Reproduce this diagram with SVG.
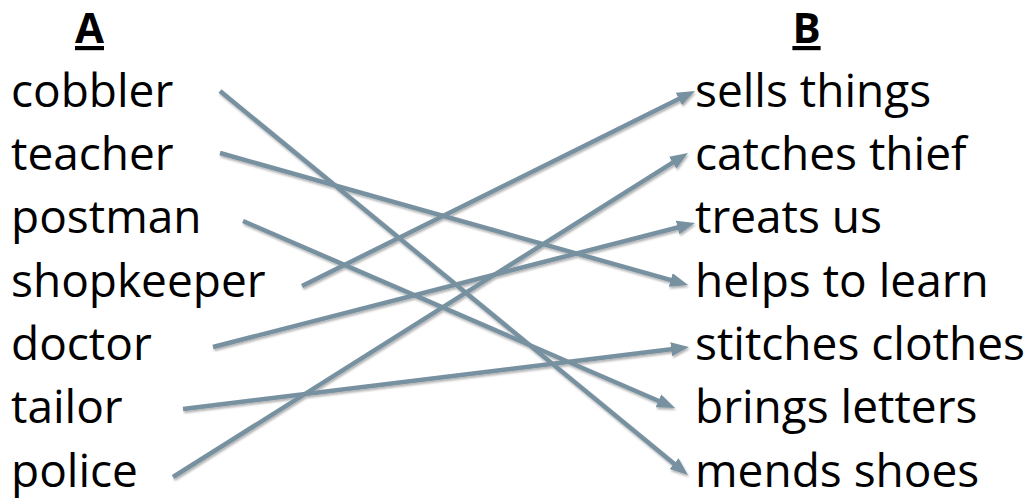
<svg xmlns="http://www.w3.org/2000/svg" width="1035" height="499" viewBox="0 0 1035 499">
<style>
  text { font-family: "Open Sans", "Liberation Sans", sans-serif; fill: #000; }
  .item { font-size: 46px; }
  .head { font-size: 42px; font-weight: bold; text-decoration: underline; }
  .conn line { stroke: #7891A0; stroke-width: 4.5; fill: none; marker-end: url(#ah); }
</style>
<defs>
  <marker id="ah" markerUnits="userSpaceOnUse" markerWidth="20" markerHeight="16" viewBox="0 -8 20 16" refX="6" refY="0" orient="auto">
    <path d="M0,-7 L18,0 L0,7 Z" fill="#7891A0"/>
  </marker>
  <filter id="sh" x="-10%" y="-10%" width="120%" height="130%">
    <feDropShadow dx="1" dy="2" stdDeviation="1.2" flood-color="#000" flood-opacity="0.3"/>
  </filter>
</defs>
<rect width="1035" height="499" fill="#fff"/>
<g id="headers">
  <text class="head" x="89.5" y="43" text-anchor="middle">A</text>
  <text class="head" x="806.5" y="43" text-anchor="middle">B</text>
</g>
<g id="left">
  <g id="n-cobbler"><text class="item" x="11" y="106.7">cobbler</text></g>
  <g id="n-teacher"><text class="item" x="11" y="170">teacher</text></g>
  <g id="n-postman"><text class="item" x="11" y="233.3">postman</text></g>
  <g id="n-shopkeeper"><text class="item" x="11" y="296.7">shopkeeper</text></g>
  <g id="n-doctor"><text class="item" x="11" y="360">doctor</text></g>
  <g id="n-tailor"><text class="item" x="11" y="423.3">tailor</text></g>
  <g id="n-police"><text class="item" x="11" y="486.7">police</text></g>
</g>
<g id="right">
  <g id="n-sells"><text class="item" x="695" y="106.7">sells things</text></g>
  <g id="n-catches"><text class="item" x="695" y="170">catches thief</text></g>
  <g id="n-treats"><text class="item" x="695" y="233.3">treats us</text></g>
  <g id="n-helps"><text class="item" x="695" y="296.7">helps to learn</text></g>
  <g id="n-stitches"><text class="item" x="695" y="360">stitches clothes</text></g>
  <g id="n-brings"><text class="item" x="695" y="423.3">brings letters</text></g>
  <g id="n-mends"><text class="item" x="695" y="486.7">mends shoes</text></g>
</g>
<g id="connectors" class="conn" filter="url(#sh)">
  <line x1="220" y1="91" x2="678.7" y2="467.4"/>
  <line x1="220" y1="153" x2="676.5" y2="281.7"/>
  <line x1="243" y1="221" x2="664" y2="403.2"/>
  <line x1="302" y1="286" x2="684.2" y2="96.3"/>
  <line x1="213" y1="347" x2="683.4" y2="226"/>
  <line x1="183" y1="409" x2="677.1" y2="348.5"/>
  <line x1="173" y1="477" x2="677.8" y2="159.4"/>
</g>
</svg>
